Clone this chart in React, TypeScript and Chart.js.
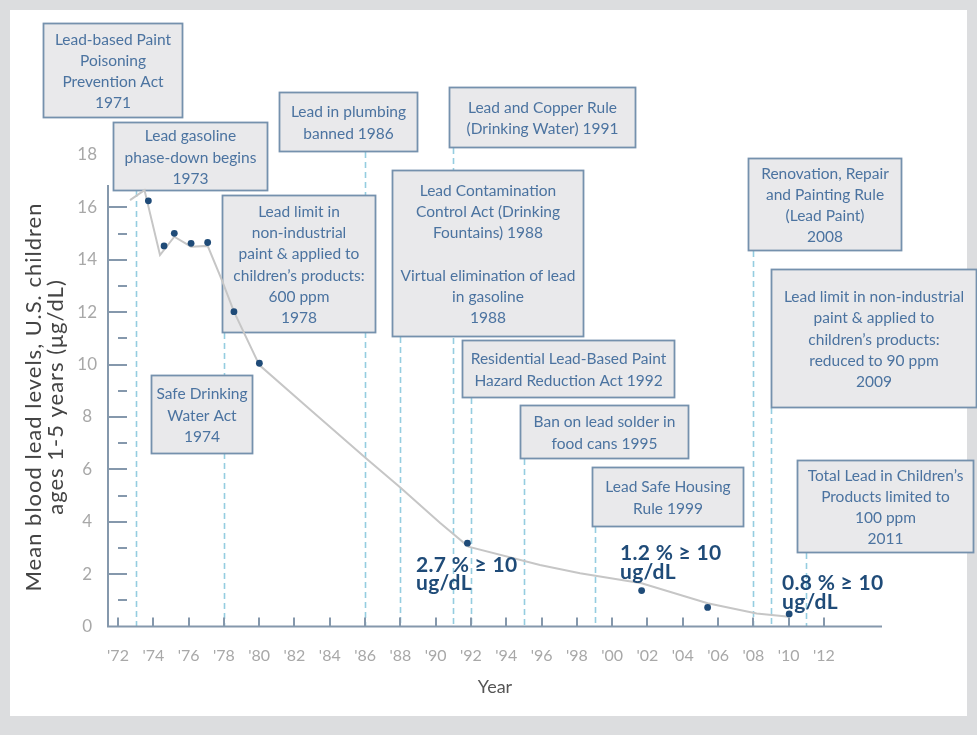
import React, { useEffect, useRef } from 'react';
import { Chart, registerables } from 'chart.js';

Chart.register(...registerables);

// ---- Data ----
const dotYears = [1973.72, 1974.61, 1975.19, 1976.14, 1977.08, 1978.57, 1980.01, 1991.8, 2001.67, 2005.41, 2010.03];
const dotValues = [16.25, 14.53, 15.01, 14.63, 14.66, 12.02, 10.05, 3.18, 1.37, 0.73, 0.48];

const trendYears = [1972.68, 1973.5, 1974.38, 1975.19, 1976.14, 1977.08, 1977.88, 1978.57, 1980.01, 1982.88, 1986.05, 1987.98, 1990.24, 1991.85, 1995.91, 1998.18, 2001.67, 2005.41, 2008.19, 2010.03];
const trendValues = [16.28, 16.66, 14.18, 14.88, 14.5, 14.53, 13.23, 12.02, 9.98, 8.28, 6.42, 5.32, 3.96, 3.05, 2.35, 2.03, 1.65, 0.89, 0.5, 0.37];

const xTickYears = [1972, 1974, 1976, 1978, 1980, 1982, 1984, 1986, 1988, 1990, 1992, 1994, 1996, 1998, 2000, 2002, 2004, 2006, 2008, 2010, 2012];
const yTickValues = [0, 2, 4, 6, 8, 10, 12, 14, 16, 18];
const yMajorTickValues = [2, 4, 6, 8, 10, 12, 14, 16];
const yMinorTickValues = [1, 3, 5, 7, 9, 11, 13, 15];

const eventLineYears = [1973, 1978, 1986, 1988, 1991, 1992, 1995, 1999, 2008, 2009, 2011];
const shareLabels = ['2.7 % \u2265 10', '1.2 % \u2265 10', '0.8 % \u2265 10'];
const shareUnit = 'ug/dL';
const yTitleLines = ['Mean blood lead levels, U.S. children', 'ages 1-5 years (\u03bcg/dL)'];

const eventTexts: string[][] = [
  ['Lead-based Paint', 'Poisoning', 'Prevention Act', '1971'],
  ['Lead gasoline', 'phase-down begins', '1973'],
  ['Lead in plumbing', 'banned 1986'],
  ['Lead and Copper Rule', '(Drinking Water) 1991'],
  ['Lead limit in', 'non-industrial', 'paint & applied to', 'children\u2019s products:', '600 ppm', '1978'],
  ['Safe Drinking', 'Water Act', '1974'],
  ['Lead Contamination', 'Control Act (Drinking', 'Fountains) 1988', '', 'Virtual elimination of lead', 'in gasoline', '1988'],
  ['Residential Lead-Based Paint', 'Hazard Reduction Act 1992'],
  ['Ban on lead solder in', 'food cans 1995'],
  ['Lead Safe Housing', 'Rule 1999'],
  ['Renovation, Repair', 'and Painting Rule', '(Lead Paint)', '2008'],
  ['Lead limit in non-industrial', 'paint & applied to', 'children\u2019s products:', 'reduced to 90 ppm', '2009'],
  ['Total Lead in Children\u2019s', 'Products limited to', '100 ppm', '2011'],
];

// ---- Layout (pixels) ----
const boxRects = [
  { x: 43, y: 23, w: 140, h: 95 },
  { x: 113, y: 122, w: 155, h: 69 },
  { x: 279, y: 92, w: 139, h: 60 },
  { x: 449, y: 87, w: 187, h: 61 },
  { x: 222, y: 195, w: 154, h: 138 },
  { x: 151, y: 375, w: 102, h: 79 },
  { x: 392, y: 170, w: 192, h: 167 },
  { x: 462, y: 340, w: 213, h: 58 },
  { x: 520, y: 405, w: 169, h: 54 },
  { x: 592, y: 467, w: 152, h: 60 },
  { x: 748, y: 158, w: 154, h: 93 },
  { x: 771, y: 269, w: 206, h: 139 },
  { x: 797, y: 460, w: 177, h: 93 },
];
const eventLineTops = [191, 333, 152, 337, 148, 398, 459, 527, 251, 408, 553];
const sharePos = [
  { x: 416, y: 565, gap: 18 },
  { x: 620, y: 553, gap: 19.5 },
  { x: 782, y: 583, gap: 19.5 },
];

const FONT = 'Lato';
const BOX_FILL = '#e9e9eb';
const BOX_BORDER = '#7591ad';
const BOX_TEXT = '#4b73a0';
const AXIS = '#8598ac';
const DASH = '#95cde0';
const NAVY = '#1f4b78';

const overlay = {
  id: 'overlay',
  beforeDatasetsDraw(chart: any) {
    const { ctx, scales } = chart;
    const xs = scales.x;
    const ys = scales.y;
    const x0 = chart.chartArea.left;
    const x1 = chart.chartArea.right;
    const yb = ys.getPixelForValue(0);
    ctx.save();
    // dashed event lines
    ctx.strokeStyle = DASH;
    ctx.lineWidth = 1.6;
    ctx.setLineDash([6, 4]);
    eventLineYears.forEach((yr, i) => {
      const px = Math.round(xs.getPixelForValue(yr)) + 0.5;
      ctx.beginPath();
      ctx.moveTo(px, eventLineTops[i]);
      ctx.lineTo(px, yb);
      ctx.stroke();
    });
    ctx.setLineDash([]);
    // axes
    ctx.strokeStyle = AXIS;
    ctx.lineWidth = 2;
    ctx.beginPath();
    ctx.moveTo(x0, ys.getPixelForValue(16.85));
    ctx.lineTo(x0, yb);
    ctx.lineTo(x1, yb);
    ctx.stroke();
    // y ticks (inside)
    yMajorTickValues.forEach((v) => {
      const py = Math.round(ys.getPixelForValue(v));
      ctx.beginPath();
      ctx.moveTo(x0, py);
      ctx.lineTo(x0 + 19, py);
      ctx.stroke();
    });
    yMinorTickValues.forEach((v) => {
      const py = Math.round(ys.getPixelForValue(v));
      ctx.beginPath();
      ctx.moveTo(x0 + 10, py);
      ctx.lineTo(x0 + 19, py);
      ctx.stroke();
    });
    // x ticks (inside)
    xTickYears.forEach((yr) => {
      const px = Math.round(xs.getPixelForValue(yr));
      ctx.beginPath();
      ctx.moveTo(px, yb);
      ctx.lineTo(px, yb - 9);
      ctx.stroke();
    });
    // y axis title (two rotated lines)
    ctx.save();
    ctx.translate(34, 397);
    ctx.rotate(-Math.PI / 2);
    ctx.fillStyle = '#444444';
    ctx.font = `22px ${FONT}`;
    ctx.textAlign = 'center';
    ctx.textBaseline = 'middle';
    try { (ctx as any).letterSpacing = '1px'; } catch (e) { /* ignore */ }
    yTitleLines.forEach((t, k) => ctx.fillText(t, 0, k * 22));
    try { (ctx as any).letterSpacing = '0px'; } catch (e) { /* ignore */ }
    ctx.restore();
    // boxes
    ctx.font = `15.5px ${FONT}`;
    ctx.textAlign = 'center';
    ctx.textBaseline = 'middle';
    boxRects.forEach((r, i) => {
      ctx.fillStyle = BOX_FILL;
      ctx.fillRect(r.x, r.y, r.w, r.h);
      ctx.strokeStyle = BOX_BORDER;
      ctx.lineWidth = 1.8;
      ctx.strokeRect(r.x + 0.5, r.y + 0.5, r.w - 1, r.h - 1);
      const lines = eventTexts[i];
      const lh = 21.2;
      const cy = r.y + r.h / 2 + 1;
      const first = cy - ((lines.length - 1) * lh) / 2;
      ctx.fillStyle = BOX_TEXT;
      lines.forEach((t, k) => {
        if (t) ctx.fillText(t, r.x + r.w / 2, first + k * lh);
      });
    });
    ctx.restore();
  },
  afterDatasetsDraw(chart: any) {
    const { ctx } = chart;
    ctx.save();
    ctx.fillStyle = NAVY;
    ctx.font = `bold 21px ${FONT}`;
    ctx.textAlign = 'left';
    ctx.textBaseline = 'middle';
    try { (ctx as any).letterSpacing = '0.3px'; } catch (e) { /* ignore */ }
    shareLabels.forEach((t, i) => {
      const p = sharePos[i];
      ctx.fillText(t, p.x, p.y);
      ctx.fillText(shareUnit, p.x, p.y + p.gap);
    });
    try { (ctx as any).letterSpacing = '0px'; } catch (e) { /* ignore */ }
    ctx.restore();
  },
};

export default function App() {
  const ref = useRef<HTMLCanvasElement | null>(null);
  useEffect(() => {
    let chart: Chart | null = null;
    let cancelled = false;
    const make = () => {
      if (cancelled || !ref.current) return;
      chart = new Chart(ref.current, {
        type: 'scatter',
        data: {
          datasets: [
            {
              label: 'Measured',
              data: dotYears.map((x, i) => ({ x, y: dotValues[i] })),
              pointRadius: 3.4,
              pointBackgroundColor: NAVY,
              pointBorderWidth: 0,
              showLine: false,
              order: 0,
            },
            {
              label: 'Trend',
              data: trendYears.map((x, i) => ({ x, y: trendValues[i] })),
              showLine: true,
              borderColor: '#c6c6c6',
              borderWidth: 2,
              pointRadius: 0,
              tension: 0,
              order: 1,
            },
          ],
        },
        options: {
          responsive: false,
          animation: false,
          events: [],
          layout: { padding: { top: 155, right: 95, left: 0, bottom: 0 } },
          plugins: { legend: { display: false }, tooltip: { enabled: false } },
          scales: {
            x: {
              type: 'linear',
              min: 1971.433,
              max: 2015.29,
              border: { display: false },
              grid: { display: false, drawTicks: false },
              afterBuildTicks: (s: any) => {
                s.ticks = xTickYears.map((v) => ({ value: v }));
              },
              afterFit: (s: any) => {
                s.height = 108.5;
              },
              ticks: {
                autoSkip: false,
                maxRotation: 0,
                padding: 20,
                color: '#a8a8a8',
                font: { family: FONT, size: 16 },
                callback: (v: any) => "'" + String(v).slice(2),
              },
              title: {
                display: true,
                text: 'Year',
                color: '#555555',
                font: { family: FONT, size: 18 },
                padding: { top: 0, bottom: 37 },
              },
            },
            y: {
              type: 'linear',
              min: 0,
              max: 18,
              border: { display: false },
              grid: { display: false, drawTicks: false },
              afterBuildTicks: (s: any) => {
                s.ticks = yTickValues.map((v) => ({ value: v }));
              },
              afterFit: (s: any) => {
                s.width = 108;
              },
              ticks: {
                autoSkip: false,
                crossAlign: 'center',
                padding: 11,
                color: '#a8a8a8',
                font: { family: FONT, size: 17 },
                callback: (v: any) => String(v),
              },
              title: { display: false },
            },
          },
        },
        plugins: [overlay],
      } as any);
    };
    const fonts = (document as any).fonts;
    if (fonts && fonts.load) {
      Promise.all([
        fonts.load(`15px ${FONT}`),
        fonts.load(`bold 19px ${FONT}`),
      ]).then(make, make);
    } else {
      make();
    }
    return () => {
      cancelled = true;
      if (chart) chart.destroy();
    };
  }, []);

  return (
    <div style={{ position: 'fixed', left: 0, top: 0, width: 977, height: 735, background: '#dcdddf', overflow: 'hidden' }}>
      <div style={{ position: 'absolute', left: 10, top: 10, width: 957, height: 706, background: '#ffffff' }} />
      <canvas
        ref={ref}
        width={977}
        height={735}
        style={{ position: 'absolute', left: 0, top: 0, width: 977, height: 735 }}
      />
    </div>
  );
}
